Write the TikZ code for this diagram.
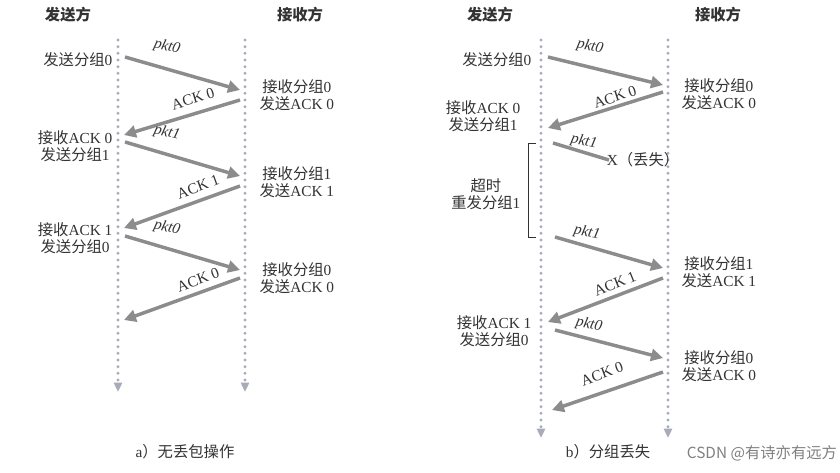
\documentclass[tikz,border=0pt]{standalone}
\usepackage{fontspec}
\setmainfont{Liberation Serif}
\newfontfamily\cjk{Noto Sans CJK SC}
\usetikzlibrary{arrows.meta}
\definecolor{arr}{HTML}{8C8C8C}
\definecolor{tl}{HTML}{A8ACB8}
\definecolor{tx}{HTML}{333333}
\tikzset{
 tline/.style={tl, line width=2.4pt, dash pattern=on 0pt off 5pt, line cap=round, -{Triangle[width=6pt,length=7pt]}},
 msg/.style={arr, line width=2.6pt, -{Triangle[width=9pt,length=9pt]}},
 lbl/.style={font=\fontsize{11.5}{13}\selectfont, text=tx, inner sep=1pt, align=center},
 ml/.style={font=\itshape\fontsize{11.5}{13}\selectfont, text=tx, inner sep=1pt},
 hd/.style={font=\cjk\bfseries\fontsize{11.5}{13}\selectfont, text=tx},
}
\begin{document}
\begin{tikzpicture}[x=0.75pt,y=-0.75pt]
\useasboundingbox[fill=white] (0,0) rectangle (840,472);
% headers
\node[hd] (h1) at (68,15) {发送方};
\node[hd] (h2) at (300,15) {接收方};
\node[hd] (h3) at (490,15) {发送方};
\node[hd] (h4) at (718,15) {接收方};
% time lines
\coordinate (s1a) at (118,40); \coordinate (s1b) at (118,392);
\coordinate (r1a) at (245,40); \coordinate (r1b) at (245,392);
\coordinate (s2a) at (541,40); \coordinate (s2b) at (541,438);
\coordinate (r2a) at (668,40); \coordinate (r2b) at (668,438);
\draw[tline] (s1a) -- (s1b);
\draw[tline] (r1a) -- (r1b);
\draw[tline] (s2a) -- (s2b);
\draw[tline] (r2a) -- (r2b);
% left messages
\coordinate (a1) at (125,57); \coordinate (a2) at (240,90);
\coordinate (a3) at (240,100); \coordinate (a4) at (124,135);
\coordinate (a5) at (125,142); \coordinate (a6) at (240,176);
\coordinate (a7) at (240,186); \coordinate (a8) at (124,228);
\coordinate (a9) at (125,236); \coordinate (a10) at (240,270);
\coordinate (a11) at (240,278); \coordinate (a12) at (124,320);
\draw[msg] (a1) -- (a2); \draw[msg] (a3) -- (a4);
\draw[msg] (a5) -- (a6); \draw[msg] (a7) -- (a8);
\draw[msg] (a9) -- (a10); \draw[msg] (a11) -- (a12);
\node[ml,rotate=-14] (m1) at (167,47) {pkt0};
\node[lbl,rotate=17] (m2) at (193,99) {ACK 0};
\node[ml,rotate=-14] (m3) at (167,133) {pkt1};
\node[lbl,rotate=20] (m4) at (198,187) {ACK 1};
\node[ml,rotate=-14] (m5) at (167,228) {pkt0};
\node[lbl,rotate=20] (m6) at (198,280) {ACK 0};
% left texts
\node[lbl,anchor=east] (t1) at (114,60) {{\cjk 发送分组}0};
\node[lbl,anchor=east] (t2) at (114,146) {{\cjk 接收}ACK 0\\{\cjk 发送分组}1};
\node[lbl,anchor=east] (t3) at (114,238) {{\cjk 接收}ACK 1\\{\cjk 发送分组}0};
\node[lbl,anchor=west] (t4) at (258,95) {{\cjk 接收分组}0\\{\cjk 发送}ACK 0};
\node[lbl,anchor=west] (t5) at (258,182) {{\cjk 接收分组}1\\{\cjk 发送}ACK 1};
\node[lbl,anchor=west] (t6) at (258,278) {{\cjk 接收分组}0\\{\cjk 发送}ACK 0};
\node[lbl] (c1) at (185,452) {a{\cjk ）无丢包操作}};
% right messages
\coordinate (b1) at (548,57); \coordinate (b2) at (663,85);
\coordinate (b3) at (663,92); \coordinate (b4) at (548,128);
\coordinate (b5) at (553,143); \coordinate (b6) at (609,160);
\coordinate (b7) at (555,237); \coordinate (b8) at (663,268);
\coordinate (b9) at (663,278); \coordinate (b10) at (548,322);
\coordinate (b11) at (555,330); \coordinate (b12) at (663,358);
\coordinate (b13) at (663,372); \coordinate (b14) at (552,410);
\draw[msg] (b1) -- (b2); \draw[msg] (b3) -- (b4);
\draw[arr,line width=2.6pt] (b5) -- (b6);
\draw[msg] (b7) -- (b8); \draw[msg] (b9) -- (b10);
\draw[msg] (b11) -- (b12); \draw[msg] (b13) -- (b14);
\node[ml,rotate=-12] (n1) at (590,47) {pkt0};
\node[lbl,rotate=18] (n2) at (615,97) {ACK 0};
\node[ml,rotate=-12] (n3) at (584,142) {pkt1};
\node[lbl] (lost) at (643,160) {X{\cjk （丢失）}};
\node[ml,rotate=-12] (n4) at (587,233) {pkt1};
\node[lbl,rotate=22] (n5) at (615,284) {ACK 1};
\node[ml,rotate=-12] (n6) at (589,325) {pkt0};
\node[lbl,rotate=20] (n7) at (602,374) {ACK 0};
% bracket
\coordinate (k1) at (536,143); \coordinate (k2) at (536,237);
\draw[tx,line width=0.6pt] (k1) -- ++(-8,0) |- (k2);
\node[lbl,anchor=east] (to) at (522,194) {{\cjk 超时}\\{\cjk 重发分组}1};
% right texts
\node[lbl,anchor=east] (u1) at (533,60) {{\cjk 发送分组}0};
\node[lbl,anchor=east] (u2) at (522,116) {{\cjk 接收}ACK 0\\{\cjk 发送分组}1};
\node[lbl,anchor=east] (u3) at (533,331) {{\cjk 接收}ACK 1\\{\cjk 发送分组}0};
\node[lbl,anchor=west] (v1) at (680,94) {{\cjk 接收分组}0\\{\cjk 发送}ACK 0};
\node[lbl,anchor=west] (v2) at (680,272) {{\cjk 接收分组}1\\{\cjk 发送}ACK 1};
\node[lbl,anchor=west] (v3) at (680,366) {{\cjk 接收分组}0\\{\cjk 发送}ACK 0};
\node[lbl] (c2) at (608,452) {b{\cjk ）分组丢失}};
\node[lbl,text=gray,font=\cjk\fontsize{11.5}{13}\selectfont] (wm) at (762,453) {CSDN @有诗亦有远方};
\end{tikzpicture}
\end{document}
